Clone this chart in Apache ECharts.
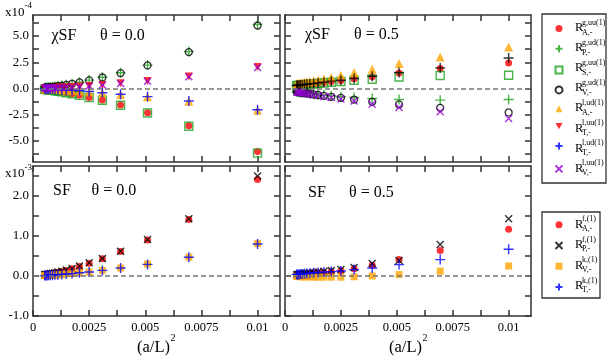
<!DOCTYPE html>
<html>
<head>
<meta charset="utf-8">
<script src="https://cdn.jsdelivr.net/npm/echarts@6/dist/echarts.min.js"></script>
<style>
html,body{margin:0;padding:0;background:#fff}
#chart{width:609px;height:356px}
</style>
</head>
<body>
<div id="chart"></div>
<script>
// (a/L)^2 for L/a = 10,12,...,44
const xVals = [0.01, 0.00694, 0.0051, 0.0039, 0.00309, 0.0025, 0.00207, 0.00174, 0.00148, 0.00128, 0.00111, 0.00098, 0.00087, 0.00077, 0.00069, 0.000625, 0.00057, 0.00052]

// chiSF, theta = 0.0  (x1e-4)
const c0_gA = [-6.0, -3.55, -2.3, -1.58, -1.1, -0.85, -0.64, -0.49, -0.39, -0.31, -0.25, -0.21, -0.17, -0.14, -0.12, -0.1, -0.09, -0.08]
const c0_gP = [6.1, 3.52, 2.23, 1.5, 1.07, 0.8, 0.6, 0.46, 0.36, 0.29, 0.23, 0.19, 0.16, 0.13, 0.11, 0.1, 0.08, 0.07]
const c0_gS = [-6.15, -3.6, -2.33, -1.6, -1.12, -0.87, -0.65, -0.5, -0.4, -0.32, -0.26, -0.21, -0.18, -0.15, -0.12, -0.11, -0.09, -0.08]
const c0_gV = [6.0, 3.47, 2.2, 1.47, 1.05, 0.78, 0.58, 0.45, 0.35, 0.28, 0.22, 0.18, 0.15, 0.13, 0.11, 0.09, 0.08, 0.07]
const c0_lA = [-2.08, -1.22, -0.79, -0.56, -0.41, -0.3, -0.23, -0.18, -0.14, -0.11, -0.09, -0.07, -0.06, -0.05, -0.04, -0.04, -0.03, -0.03]
const c0_lTuu = [2.05, 1.15, 0.72, 0.49, 0.34, 0.25, 0.19, 0.15, 0.12, 0.09, 0.07, 0.06, 0.05, 0.04, 0.04, 0.03, 0.03, 0.02]
const c0_lTud = [-2.03, -1.19, -0.77, -0.55, -0.4, -0.29, -0.22, -0.17, -0.13, -0.11, -0.09, -0.07, -0.06, -0.05, -0.04, -0.04, -0.03, -0.03]
const c0_lV = [2.0, 1.12, 0.7, 0.47, 0.33, 0.24, 0.18, 0.14, 0.11, 0.09, 0.07, 0.06, 0.05, 0.04, 0.03, 0.03, 0.02, 0.02]

// chiSF, theta = 0.5  (x1e-4)
const c5_gA = [2.43, 1.9, 1.48, 1.12, 0.92, 0.76, 0.66, 0.57, 0.5, 0.46, 0.42, 0.38, 0.35, 0.33, 0.31, 0.3, 0.28, 0.27]
const c5_gP = [-1.05, -1.11, -1.05, -0.95, -0.85, -0.78, -0.7, -0.63, -0.57, -0.52, -0.48, -0.44, -0.41, -0.39, -0.37, -0.35, -0.33, -0.32]
const c5_gS = [1.26, 1.24, 1.1, 0.88, 0.79, 0.67, 0.6, 0.53, 0.48, 0.44, 0.4, 0.37, 0.35, 0.33, 0.31, 0.29, 0.28, 0.27]
const c5_gV = [-2.28, -1.84, -1.52, -1.27, -1.05, -0.89, -0.79, -0.7, -0.62, -0.56, -0.5, -0.46, -0.43, -0.4, -0.37, -0.35, -0.33, -0.31]
const c5_lA = [3.95, 3.0, 2.38, 1.83, 1.52, 1.26, 1.05, 0.9, 0.8, 0.72, 0.66, 0.61, 0.57, 0.54, 0.51, 0.49, 0.47, 0.45]
const c5_lTud = [2.9, 1.96, 1.52, 1.17, 0.95, 0.79, 0.7, 0.6, 0.53, 0.48, 0.44, 0.4, 0.37, 0.35, 0.33, 0.31, 0.3, 0.29]
const c5_lV = [-2.85, -2.22, -1.8, -1.49, -1.18, -0.99, -0.85, -0.76, -0.68, -0.61, -0.55, -0.5, -0.46, -0.43, -0.4, -0.37, -0.35, -0.33]

// SF, theta = 0.0  (x1e-3)
const s0_fA = [2.41, 1.41, 0.9, 0.61, 0.43, 0.32, 0.24, 0.18, 0.14, 0.11, 0.09, 0.08, 0.06, 0.05, 0.05, 0.04, 0.03, 0.03]
const s0_fP = [2.5, 1.43, 0.91, 0.62, 0.44, 0.33, 0.25, 0.19, 0.15, 0.12, 0.1, 0.08, 0.07, 0.06, 0.05, 0.04, 0.04, 0.03]
const s0_kV = [0.81, 0.47, 0.3, 0.2, 0.14, 0.1, 0.08, 0.06, 0.05, 0.04, 0.03, 0.03, 0.02, 0.02, 0.02, 0.01, 0.01, 0.01]
const s0_kT = [0.8, 0.47, 0.29, 0.2, 0.14, 0.1, 0.08, 0.06, 0.05, 0.04, 0.03, 0.03, 0.02, 0.02, 0.02, 0.01, 0.01, 0.01]

// SF, theta = 0.5  (x1e-3)
const s5_fA = [1.17, 0.64, 0.41, 0.27, 0.18, 0.13, 0.11, 0.09, 0.08, 0.07, 0.06, 0.05, 0.05, 0.04, 0.04, 0.03, 0.03, 0.03]
const s5_fP = [1.43, 0.79, 0.39, 0.31, 0.21, 0.16, 0.14, 0.12, 0.1, 0.09, 0.08, 0.07, 0.06, 0.05, 0.05, 0.04, 0.04, 0.03]
const s5_kV = [0.25, 0.12, 0.035, 0.0, -0.02, -0.03, -0.03, -0.03, -0.03, -0.03, -0.02, -0.02, -0.02, -0.02, -0.02, -0.01, -0.01, -0.01]
const s5_kT = [0.67, 0.41, 0.285, 0.2, 0.16, 0.125, 0.11, 0.1, 0.09, 0.08, 0.07, 0.06, 0.06, 0.05, 0.05, 0.04, 0.04, 0.04]

// ticks and labels
const xTickVals = [0, 0.00125, 0.0025, 0.00375, 0.005, 0.00625, 0.0075, 0.00875, 0.01]
const xLabelVals = [0, 0.0025, 0.005, 0.0075, 0.01]
const yTopTicks = [-6.25, -5, -3.75, -2.5, -1.25, 0, 1.25, 2.5, 3.75, 5, 6.25]
const yTopLabels = [-5, -2.5, 0, 2.5, 5]
const yBotTicks = [-1, -0.5, 0, 0.5, 1, 1.5, 2, 2.5]
const yBotLabels = [-1, 0, 1, 2]

// legend
const topNames = ['gA', 'gP', 'gS', 'gV', 'lA', 'lTuu', 'lTud', 'lV']
const topSup = ['g,uu(1)', 'g,ud(1)', 'g,uu(1)', 'g,ud(1)', 'l,ud(1)', 'l,uu(1)', 'l,ud(1)', 'l,uu(1)']
const topSub = ['A,-', 'P,-', 'S,-', 'V,-', 'A,-', 'T,-', 'T,-', 'V,-']
const botNames = ['fA', 'fP', 'kV', 'kT']
const botSup = ['f,(1)', 'f,(1)', 'k,(1)', 'k,(1)']
const botSub = ['A,-', 'P,-', 'V,-', 'T,-']

const SERIF = '"Liberation Serif", "DejaVu Serif", serif'
const FRAME = { color: '#333', width: 1.5 }

const marks = {
  gA: ['dot', '#ff0000'], gP: ['plus', '#1fa01f'], gS: ['osq', '#1fa01f'], gV: ['ocirc', '#000000'],
  lA: ['tri', '#ffa500'], lTuu: ['dtri', '#ff0000'], lTud: ['plus', '#0000ff'], lV: ['cross', '#9400d3'],
  fA: ['dot', '#ff0000'], fP: ['cross', '#000000'], kV: ['sq', '#ffa500'], kT: ['plus', '#0000ff']
}

function markStyle(kind, color) {
  switch (kind) {
    case 'dot': return { symbol: 'circle', symbolSize: 7, itemStyle: { color: color } }
    case 'sq': return { symbol: 'rect', symbolSize: 7, itemStyle: { color: color } }
    case 'tri': return { symbol: 'triangle', symbolSize: 9, itemStyle: { color: color } }
    case 'dtri': return { symbol: 'path://M0,0L10,0L5,9Z', symbolSize: 8, itemStyle: { color: color } }
    case 'osq': return { symbol: 'rect', symbolSize: 8, itemStyle: { color: 'rgba(0,0,0,0)', borderColor: color, borderWidth: 1.4 } }
    case 'ocirc': return { symbol: 'circle', symbolSize: 7, itemStyle: { color: 'rgba(0,0,0,0)', borderColor: color, borderWidth: 1.3 } }
    case 'plus': return { symbol: 'path://M5,0L5,10M0,5L10,5', symbolSize: 10, itemStyle: { color: 'none', borderColor: color, borderWidth: 1.4 } }
    case 'cross': return { symbol: 'path://M0,0L10,10M10,0L0,10', symbolSize: 7, itemStyle: { color: 'none', borderColor: color, borderWidth: 1.4 } }
  }
}

function scatter(name, grid, ys, color) {
  const m = markStyle(marks[name][0], color || marks[name][1])
  return Object.assign({
    type: 'scatter', name: name,
    xAxisIndex: 2 * grid, yAxisIndex: 2 * grid,
    data: xVals.map((x, i) => [x, ys[i]])
  }, m)
}

function zeroLine(grid) {
  return {
    type: 'scatter', xAxisIndex: 2 * grid, yAxisIndex: 2 * grid, data: [], z: 1,
    markLine: {
      silent: true, symbol: ['none', 'none'], label: { show: false },
      lineStyle: { color: '#777', type: [5, 3], width: 1.5 },
      data: [{ yAxis: 0 }]
    }
  }
}

function xAxes(grid, withLabels) {
  const base = {
    type: 'value', gridIndex: grid, min: 0, max: 0.011,
    axisLine: { show: true, onZero: false, lineStyle: FRAME },
    splitLine: { show: false }
  }
  return [
    Object.assign({}, base, {
      position: 'bottom',
      axisTick: { inside: true, length: 6, customValues: xTickVals, lineStyle: FRAME },
      axisLabel: {
        show: withLabels, customValues: xLabelVals, margin: 5,
        fontFamily: SERIF, fontSize: 12.5, color: '#000',
        formatter: v => String(+(+v).toFixed(4))
      }
    }),
    Object.assign({}, base, {
      position: 'top',
      axisTick: { inside: true, length: 6, customValues: xTickVals, lineStyle: FRAME },
      axisLabel: { show: false }
    })
  ]
}

function yAxes(grid, lo, hi, ticks, labels, withLabels) {
  const base = {
    type: 'value', gridIndex: grid, min: lo, max: hi,
    axisLine: { show: true, onZero: false, lineStyle: FRAME },
    splitLine: { show: false }
  }
  return [
    Object.assign({}, base, {
      position: 'left',
      axisTick: { inside: true, length: 6, customValues: ticks, lineStyle: FRAME },
      axisLabel: {
        show: withLabels, customValues: labels, margin: 4,
        fontFamily: SERIF, fontSize: 13, color: '#000',
        formatter: v => (+v).toFixed(1)
      }
    }),
    Object.assign({}, base, {
      position: 'right',
      axisTick: { inside: true, length: 6, customValues: ticks, lineStyle: FRAME },
      axisLabel: { show: false }
    })
  ]
}

function txt(x, y, text, size) {
  return {
    type: 'text', x: x, y: y, silent: true,
    style: { text: text, fontFamily: SERIF, fontSize: size, fill: '#000', align: 'left', verticalAlign: 'middle' }
  }
}

const graphics = [
  txt(5, 12.7, 'x10', 13), txt(24.5, 5.5, '-4', 9),
  txt(5, 173.5, 'x10', 13), txt(24.5, 168, '-3', 9),
  txt(51.5, 36, '\u03c7SF', 16), txt(100, 36, '\u03b8 = 0.0', 16),
  txt(305, 34.5, '\u03c7SF', 16), txt(354, 34.5, '\u03b8 = 0.5', 16),
  txt(53, 190.5, 'SF', 16), txt(91.5, 190.5, '\u03b8 = 0.0', 16),
  txt(308, 192.5, 'SF', 16), txt(349, 192.5, '\u03b8 = 0.5', 16),
  txt(137, 347.5, '(a/L)', 16.5), txt(170.5, 338.5, '2', 10),
  txt(389, 347.5, '(a/L)', 16.5), txt(422.5, 338.5, '2', 10),
  { type: 'rect', silent: true, shape: { x: 542, y: 14, width: 64, height: 169 }, style: { fill: 'none', stroke: '#333', lineWidth: 1.3 } },
  { type: 'rect', silent: true, shape: { x: 542, y: 212, width: 58, height: 86 }, style: { fill: 'none', stroke: '#333', lineWidth: 1.3 } }
]
topNames.forEach((n, i) => {
  const c = 28 + 20.05 * i
  graphics.push(txt(575, c, 'R', 12.5), txt(582, c - 5, topSup[i], 8), txt(582, c + 4.5, topSub[i], 8))
})
botNames.forEach((n, i) => {
  const c = 224.3 + 20.5 * i
  graphics.push(txt(575, c, 'R', 12.5), txt(582, c - 5, botSup[i], 8), txt(582, c + 4.5, botSub[i], 8))
})

const chart = echarts.init(document.getElementById('chart'))
chart.setOption({
  animation: false,
  backgroundColor: '#fff',
  grid: [
    { left: 33, top: 15, width: 247, height: 147 },
    { left: 285, top: 15, width: 246, height: 147 },
    { left: 33, top: 166, width: 247, height: 150 },
    { left: 285, top: 166, width: 246, height: 150 }
  ],
  xAxis: [].concat(xAxes(0, false), xAxes(1, false), xAxes(2, true), xAxes(3, true)),
  yAxis: [].concat(
    yAxes(0, -7, 7, yTopTicks, yTopLabels, true),
    yAxes(1, -7, 7, yTopTicks, yTopLabels, false),
    yAxes(2, -1, 2.75, yBotTicks, yBotLabels, true),
    yAxes(3, -1, 2.75, yBotTicks, yBotLabels, false)
  ),
  legend: [
    {
      data: topNames, orient: 'vertical', left: 553, top: 25, padding: 0,
      itemWidth: 7, itemHeight: 7, itemGap: 10.8, selectedMode: false,
      formatter: () => '', textStyle: { fontSize: 5, lineHeight: 5 }
    },
    {
      data: botNames, orient: 'vertical', left: 553, top: 221.3, padding: 0,
      itemWidth: 7, itemHeight: 7, itemGap: 11.2, selectedMode: false,
      formatter: () => '', textStyle: { fontSize: 5, lineHeight: 5 }
    }
  ],
  graphic: graphics,
  series: [
    zeroLine(0), zeroLine(1), zeroLine(2), zeroLine(3),
    scatter('gA', 0, c0_gA), scatter('gP', 0, c0_gP), scatter('gS', 0, c0_gS), scatter('gV', 0, c0_gV),
    scatter('lA', 0, c0_lA), scatter('lTuu', 0, c0_lTuu), scatter('lTud', 0, c0_lTud), scatter('lV', 0, c0_lV),
    scatter('gA', 1, c5_gA), scatter('gP', 1, c5_gP), scatter('gS', 1, c5_gS), scatter('gV', 1, c5_gV),
    scatter('lA', 1, c5_lA), scatter('lTud', 1, c5_lTud, '#000000'), scatter('lV', 1, c5_lV),
    scatter('fA', 2, s0_fA), scatter('fP', 2, s0_fP), scatter('kV', 2, s0_kV), scatter('kT', 2, s0_kT),
    scatter('fA', 3, s5_fA), scatter('fP', 3, s5_fP), scatter('kV', 3, s5_kV), scatter('kT', 3, s5_kT)
  ]
})
</script>
</body>
</html>
